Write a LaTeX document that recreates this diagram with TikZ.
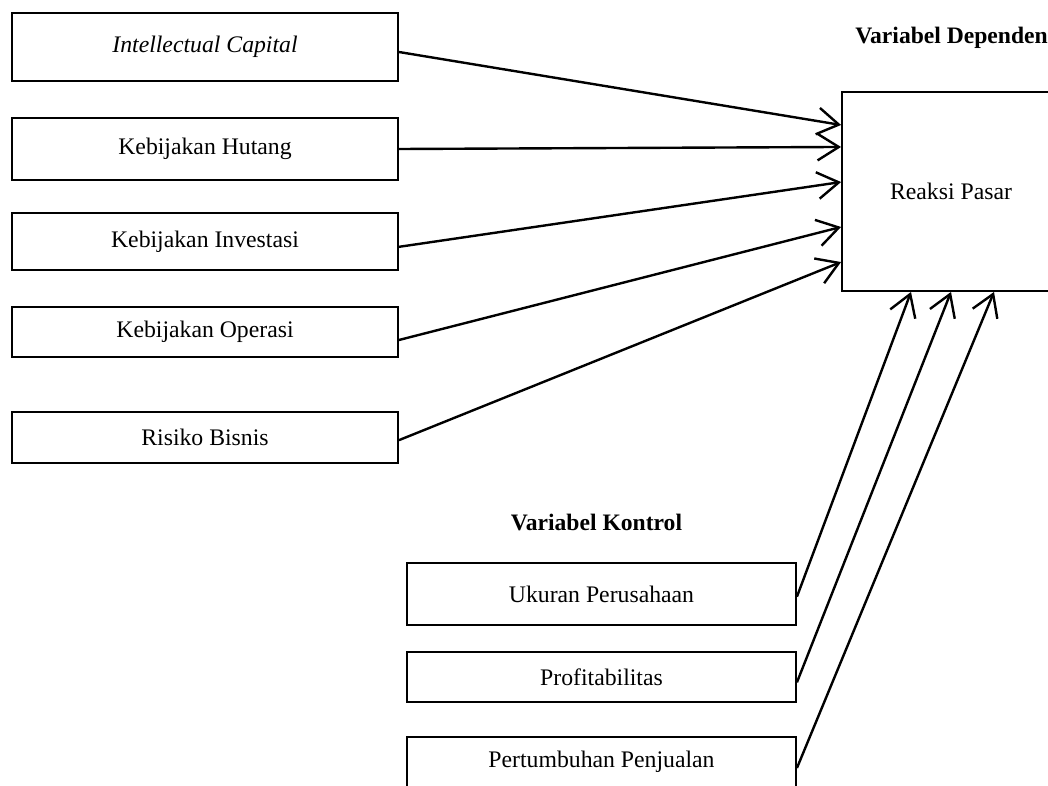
\documentclass[tikz,border=0pt]{standalone}
\usepackage{fontspec}
\setmainfont{Liberation Serif}
\usetikzlibrary{arrows.meta}
\tikzset{
  var_box/.style = {draw=black, line width=1.4pt, rectangle, inner sep=0pt,
    align=center, font=\fontsize{17.8}{21}\selectfont},% kotak variabel
  indep_box/.style = {var_box, minimum width=289.5pt},% variabel independen
  ctrl_box/.style = {var_box, minimum width=291.75pt},% variabel kontrol
  group_label/.style = {inner sep=0pt,
    font=\fontsize{17.7}{21}\selectfont\bfseries},% judul kelompok
  effect/.style = {line width=1.8pt,
    -{Straight Barb[length=16pt,width=20pt,line width=1.8pt]}}% panah pengaruh
}

\begin{document}
\begin{tikzpicture}[x=0.75pt, y=-0.75pt]
    \useasboundingbox (0,0) rectangle (1048,785);

    % variabel independen
    \node [indep_box, minimum height=51pt] (ic) at (205,47) {\itshape Intellectual Capital};
    \node [indep_box, minimum height=46.5pt] (kh) at (205,149) {Kebijakan Hutang};
    \node [indep_box, minimum height=42.75pt] (ki) at (205,241.5) {Kebijakan Investasi};
    \node [indep_box, minimum height=37.5pt] (ko) at (205,332) {Kebijakan Operasi};
    \node [indep_box, minimum height=38pt] (rb) at (205,437.5) {Risiko Bisnis};

    % variabel dependen
    \node [var_box, minimum width=163.5pt, minimum height=149.25pt] (rp) at (951,191.5) {Reaksi Pasar};
    \node [group_label, anchor=west] (dep) at (855,38) {Variabel Dependen};

    % variabel kontrol
    \node [group_label] (ctrl) at (596.5,522) {Variabel Kontrol};
    \node [ctrl_box, minimum height=46.5pt] (up) at (601.5,594) {Ukuran Perusahaan};
    \node [ctrl_box, minimum height=37.5pt] (pr) at (601.5,677) {Profitabilitas};
    \node [ctrl_box, minimum height=37.5pt] (pp) at (601.5,762) {Pertumbuhan Penjualan};

    \draw [effect] ([yshift=-3.75pt]ic.east) -- ([yshift=49.9pt]rp.west);
    \draw [effect] (kh.east) -- ([yshift=33.4pt]rp.west);
    \draw [effect] ([yshift=-4pt]ki.east) -- ([yshift=7.1pt]rp.west);
    \draw [effect] ([yshift=-6pt]ko.east) -- ([yshift=-26.6pt]rp.west);
    \draw [effect] ([yshift=-2pt]rb.east) -- ([yshift=-52.9pt]rp.west);

    \draw [effect] ([yshift=-2pt]up.east) -- ([xshift=-30pt]rp.south);
    \draw [effect] ([yshift=-4pt]pr.east) -- (rp.south);
    \draw [effect] ([yshift=-4.5pt]pp.east) -- ([xshift=32.25pt]rp.south);
\end{tikzpicture}
\end{document}
